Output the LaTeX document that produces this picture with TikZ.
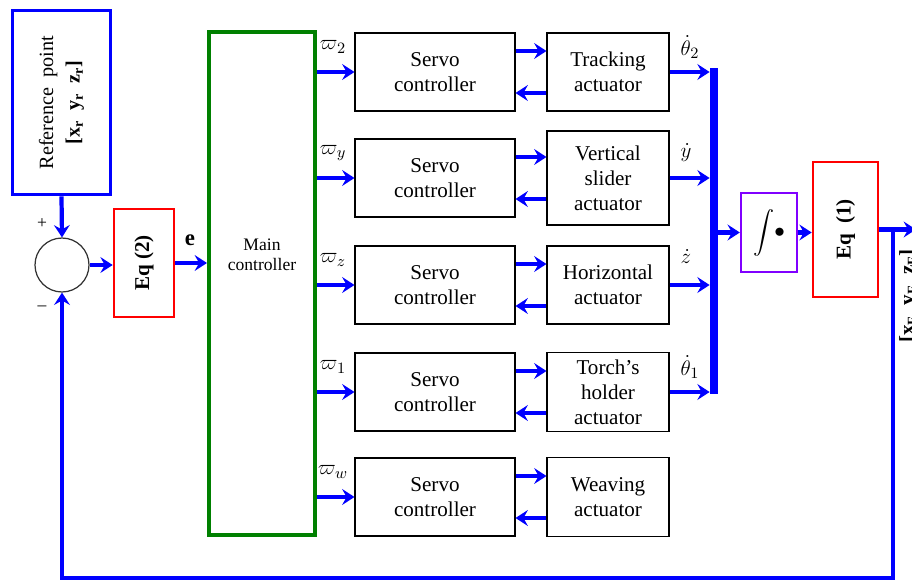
\documentclass[tikz,border=0pt]{standalone}
\usepackage{fontspec}
\setmainfont{Liberation Serif}
\usepackage{amsmath}
\usetikzlibrary{arrows.meta, positioning, calc}
\definecolor{intviolet}{RGB}{128,0,255}
\definecolor{ctrlgreen}{RGB}{0,128,0}
\tikzset{
  blk/.style={rectangle, draw, line width=0.6pt, align=center,
              inner sep=0pt, font=\fontsize{12}{14.2}\selectfont},
  servo/.style={blk, minimum width=3.2cm, minimum height=1.56cm},
  act/.style={blk, minimum width=2.44cm},
  eqbox/.style={blk, draw=red, line width=1.5pt, font=\fontsize{12}{14}\selectfont\bfseries},
  refbox/.style={blk, draw=blue, line width=1.7pt, font=\fontsize{11.5}{14}\selectfont},
  arr/.style={-{Stealth[length=7pt, width=9pt, inset=2.5pt]}, blue, line width=2.4pt},
  lbl/.style={inner sep=0pt, font=\fontsize{13}{15}\selectfont},
}
\begin{document}
\begin{tikzpicture}[x=0.02cm, y=-0.02cm,
  sumnode/.style={circle, draw=black!80, line width=0.7pt, minimum size=1.08cm, inner sep=0pt}
]
  \useasboundingbox (0,0) rectangle (912,581);
  \node[refbox, minimum width=1.98cm, minimum height=3.7cm] (ref) at (61.5,102.5)
    {\rotatebox{90}{\begin{tabular}{@{}c@{}}Reference~~point\\[1pt]
     \textbf{[x\textsubscript{r}~~y\textsubscript{r}~~z\textsubscript{r}]}\end{tabular}}};
  \node[sumnode] (sum) at (62,265) {};
  \node[lbl, font=\fontsize{10}{12}\selectfont] (plus) at (42,224) {+};
  \node[lbl, font=\fontsize{10}{12}\selectfont] (minus) at (42,308) {--};
  \node[eqbox, minimum width=1.2cm, minimum height=2.16cm] (eq2) at (144,263)
    {\rotatebox{90}{Eq (2)}};
  \node[lbl, font=\fontsize{13}{15}\selectfont\bfseries] (err) at (190,240) {e};
  \node[blk, draw=ctrlgreen, line width=2.3pt, minimum width=2.12cm, minimum height=10.06cm,
        label={[align=center, font=\fontsize{10}{11.3}\selectfont, yshift=0.57cm]center:Main\\controller}]
        (main) at (262,283.5) {};

  \foreach \n/\y/\w/\h/\t in {
      1/72/2/1.56/{Tracking\\actuator},
      2/178/y/1.88/{Vertical\\slider\\actuator},
      3/285/z/1.56/{Horizontal\\actuator},
      4/392/1/1.58/{Torch's\\holder\\actuator},
      5/497/w/1.58/{Weaving\\actuator}} {
    \node[servo] (s\n) at (435,\y) {Servo\\controller};
    \node[act, minimum height=\h cm] (a\n) at (608,\y) {\t};
    \node[lbl] (w\n) at (333,\y-25) {$\varpi_{\w}$};
    \draw[arr] (s\n.west -| main.east) -- (s\n.west);
    \draw[arr] ([yshift=0.42cm]s\n.east) -- ([yshift=0.42cm]s\n.east -| a\n.west);
    \draw[arr] ([yshift=-0.42cm]s\n.east -| a\n.west) -- ([yshift=-0.42cm]s\n.east);
  }

  \node[fill=blue, inner sep=0pt, minimum width=0.16cm, minimum height=6.52cm] (bus) at (714,231) {};
  \foreach \n in {1,...,4}
    \draw[arr] (a\n.east) -- (a\n.east -| bus.west);
  \node[lbl] (d1) at (690,47) {$\dot{\theta}_2$};
  \node[lbl] (d2) at (686,153) {$\dot{y}$};
  \node[lbl] (d3) at (686,257) {$\dot{z}$};
  \node[lbl] (d4) at (690,367) {$\dot{\theta}_1$};

  \node[blk, draw=intviolet, line width=1.3pt, minimum width=1.12cm, minimum height=1.58cm] (integ) at (769,232.5)
    {\fontsize{12}{14}\selectfont$\displaystyle\int\!\bullet$};
  \node[eqbox, minimum width=1.3cm, minimum height=2.7cm] (eq1) at (845.5,229.5)
    {\rotatebox{90}{Eq~~(1)}};
  \coordinate (tap) at ([xshift=0.28cm]eq1.east);
  \coordinate (out) at (916,229.5);
  \coordinate (fbl) at (62,578);
  \node[lbl, rotate=90, anchor=north, font=\fontsize{12}{14}\selectfont\bfseries] (pos) at (899,296)
    {[x\textsubscript{F}~~y\textsubscript{F}~~z\textsubscript{F}]};

  \draw[arr] (ref.south) -- (sum.north);
  \draw[arr] (sum.east) -- (sum.east -| eq2.west);
  \draw[arr] (eq2.east) -- (eq2.east -| main.west);
  \draw[arr] (bus.east |- integ.west) -- (integ.west);
  \draw[arr] (integ.east) -- (integ.east -| eq1.west);
  \draw[arr] (eq1.east) -- (out);
  \draw[arr] (tap) |- (fbl) -- (sum.south);
\end{tikzpicture}
\end{document}
